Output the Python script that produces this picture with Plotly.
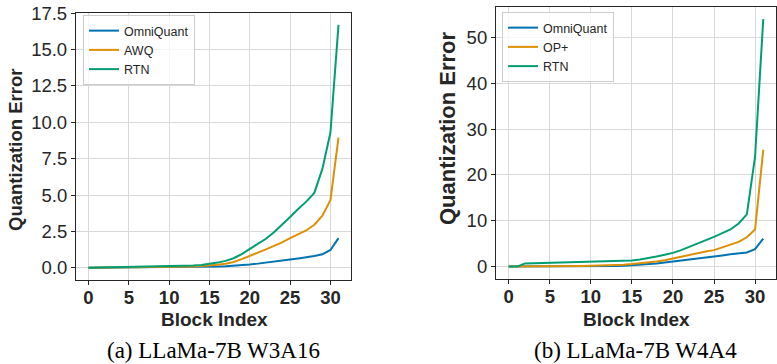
import plotly.graph_objects as go

W, H = 777, 364

block_index = list(range(32))

# (a) LLaMa-7B W3A16
a_omniquant = [0.0, 0.003, 0.006, 0.008, 0.01, 0.012, 0.014, 0.016, 0.018, 0.021, 0.025, 0.03, 0.036, 0.044, 0.054,
               0.068, 0.085, 0.11, 0.14, 0.18, 0.23, 0.29, 0.35, 0.42, 0.5, 0.58, 0.65, 0.72, 0.81, 0.93, 1.23, 2.04]
a_awq = [0.0, 0.005, 0.01, 0.015, 0.02, 0.025, 0.03, 0.035, 0.04, 0.05, 0.06, 0.07, 0.08, 0.1, 0.13,
         0.16, 0.21, 0.28, 0.4, 0.6, 0.85, 1.05, 1.27, 1.5, 1.75, 2.04, 2.3, 2.57, 2.96, 3.59, 4.65, 8.95]
a_rtn = [0.0, 0.01, 0.02, 0.025, 0.03, 0.04, 0.045, 0.05, 0.06, 0.07, 0.09, 0.11, 0.13, 0.16, 0.2,
         0.27, 0.36, 0.48, 0.66, 0.95, 1.3, 1.62, 2.0, 2.45, 2.95, 3.5, 4.05, 4.55, 5.15, 6.8, 9.3, 16.7]

# (b) LLaMa-7B W4A4
b_omniquant = [0.0, 0.0, 0.01, 0.01, 0.015, 0.02, 0.02, 0.025, 0.03, 0.04, 0.05, 0.07, 0.1, 0.14, 0.2,
               0.3, 0.4, 0.5, 0.7, 0.9, 1.1, 1.3, 1.5, 1.75, 2.0, 2.2, 2.45, 2.7, 2.9, 3.1, 3.8, 6.1]
b_opplus = [0.0, 0.0, 0.05, 0.06, 0.07, 0.08, 0.09, 0.1, 0.12, 0.14, 0.17, 0.2, 0.25, 0.32, 0.42,
            0.55, 0.7, 0.9, 1.1, 1.4, 1.8, 2.2, 2.6, 3.0, 3.3, 3.6, 4.2, 4.9, 5.4, 6.4, 8.1, 25.5]
b_rtn = [0.0, 0.0, 0.7, 0.75, 0.78, 0.8, 0.83, 0.86, 0.9, 0.93, 0.96, 1.0, 1.05, 1.15, 1.25,
         1.35, 1.55, 1.8, 2.2, 2.6, 3.0, 3.6, 4.3, 5.0, 5.7, 6.5, 7.3, 8.1, 9.4, 11.4, 24.0, 54.0]

x_ticks = [0, 5, 10, 15, 20, 25, 30]
a_y_ticks = [0.0, 2.5, 5.0, 7.5, 10.0, 12.5, 15.0, 17.5]
a_y_ticklabels = ["0.0", "2.5", "5.0", "7.5", "10.0", "12.5", "15.0", "17.5"]
b_y_ticks = [0, 10, 20, 30, 40, 50]

blue, orange, green = "#0173b2", "#de8f05", "#029e73"
dark = "#262626"
grid = "#d8d8d8"
sans = "Liberation Sans, Arial, sans-serif"
serif = "Liberation Serif, Times New Roman, serif"


def px_x(p):
    return p / W


def px_y(p):
    return 1 - p / H


fig = go.Figure()

for name, ys, col in [("OmniQuant", a_omniquant, blue), ("AWQ", a_awq, orange), ("RTN", a_rtn, green)]:
    fig.add_trace(go.Scatter(x=block_index, y=ys, mode="lines", name=name,
                             line=dict(color=col, width=2), xaxis="x", yaxis="y", legend="legend"))

for name, ys, col in [("OmniQuant", b_omniquant, blue), ("OP+", b_opplus, orange), ("RTN", b_rtn, green)]:
    fig.add_trace(go.Scatter(x=block_index, y=ys, mode="lines", name=name,
                             line=dict(color=col, width=2), xaxis="x2", yaxis="y2", legend="legend2"))

common_axis = dict(showline=True, mirror=True, linecolor=dark, linewidth=1.25,
                   ticks="outside", ticklen=4, tickwidth=1.1, tickcolor=dark,
                   showgrid=True, gridcolor=grid, gridwidth=1, zeroline=False,
                   automargin=False)

xfont = dict(family=sans, size=18.5, color=dark, weight="bold")
yfont = dict(family=sans, size=18.5, color=dark)

fig.update_layout(
    width=W, height=H,
    margin=dict(l=0, r=0, t=0, b=0, autoexpand=False),
    paper_bgcolor="white", plot_bgcolor="white",
    xaxis=dict(domain=[px_x(76), px_x(351)], range=[-1.55, 32.55], tickvals=x_ticks,
               tickfont=xfont, anchor="y", ticklabelstandoff=-3, **common_axis),
    yaxis=dict(domain=[px_y(280), px_y(12.7)], range=[-0.835, 17.535], tickvals=a_y_ticks,
               ticktext=a_y_ticklabels, tickfont=yfont, anchor="x", **common_axis),
    xaxis2=dict(domain=[px_x(496), px_x(776)], range=[-1.55, 32.55], tickvals=x_ticks,
                tickfont=xfont, anchor="y2", ticklabelstandoff=-3, **common_axis),
    yaxis2=dict(domain=[px_y(279), px_y(6.7)], range=[-2.7, 56.7], tickvals=b_y_ticks,
                tickfont=yfont, anchor="x2", **common_axis),
    legend=dict(x=px_x(83), y=px_y(15), xanchor="left", yanchor="top",
                bgcolor="rgba(255,255,255,0.8)", bordercolor="#cccccc", borderwidth=1,
                font=dict(family=sans, size=12.5, color=dark), itemwidth=30, tracegroupgap=0),
    legend2=dict(x=px_x(502), y=px_y(12), xanchor="left", yanchor="top",
                 bgcolor="rgba(255,255,255,0.8)", bordercolor="#cccccc", borderwidth=1,
                 font=dict(family=sans, size=12.5, color=dark), itemwidth=30, tracegroupgap=0),
    showlegend=True,
)

ann = []
# axis titles
ann.append(dict(text="Block Index", x=px_x(214), y=px_y(319), xref="paper", yref="paper",
                showarrow=False, xanchor="center", yanchor="middle",
                font=dict(family=sans, size=19, color=dark, weight="bold")))
ann.append(dict(text="Block Index", x=px_x(636), y=px_y(319), xref="paper", yref="paper",
                showarrow=False, xanchor="center", yanchor="middle",
                font=dict(family=sans, size=19, color=dark, weight="bold")))
ann.append(dict(text="Quantization Error", x=px_x(15), y=px_y(150), xref="paper", yref="paper",
                showarrow=False, xanchor="center", yanchor="middle", textangle=-90,
                font=dict(family=sans, size=18.5, color=dark, weight="bold")))
ann.append(dict(text="Quantization Error", x=px_x(447), y=px_y(128), xref="paper", yref="paper",
                showarrow=False, xanchor="center", yanchor="middle", textangle=-90,
                font=dict(family=sans, size=22, color=dark, weight="bold")))
# captions
ann.append(dict(text="(a) LLaMa-7B W3A16", x=px_x(213), y=0, xref="paper", yref="paper",
                showarrow=False, xanchor="center", yanchor="bottom", borderpad=0,
                font=dict(family=serif, size=23, color="black")))
ann.append(dict(text="(b) LLaMa-7B W4A4", x=px_x(635), y=0, xref="paper", yref="paper",
                showarrow=False, xanchor="center", yanchor="bottom", borderpad=0,
                font=dict(family=serif, size=23, color="black")))
fig.update_layout(annotations=ann)

fig.write_html("out.html", config={"displayModeBar": False},
               post_script="document.body.style.margin='0';document.body.style.overflow='hidden';")
